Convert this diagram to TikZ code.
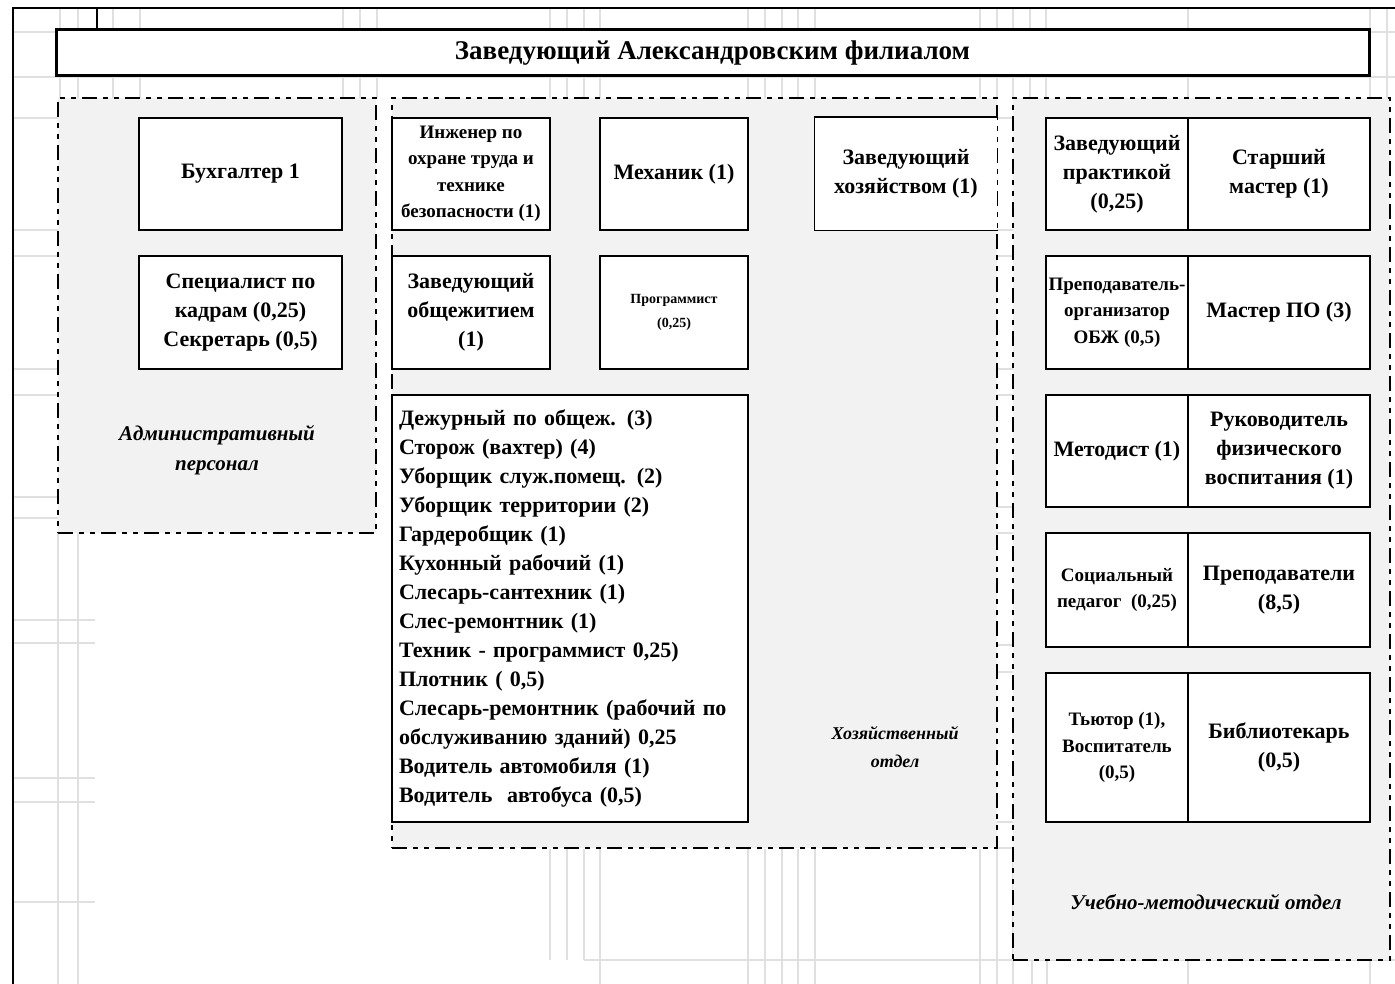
\documentclass[tikz,border=0pt]{standalone}
\usepackage{fontspec}
\setmainfont{Liberation Serif}
\definecolor{gridc}{HTML}{E0E0E0}
\definecolor{panelc}{HTML}{F2F2F2}
\begin{document}
\begin{tikzpicture}[x=1pt,y=-1pt,
  gridline/.style={draw=gridc, line width=1.2pt},
  frameline/.style={draw=black, line width=2pt},
  panel/.style={draw=black, fill=panelc, line width=2pt, dash pattern=on 15pt off 6pt on 5pt off 6pt on 5pt off 6pt, inner sep=0pt},
  box/.style={draw=black, line width=1.5pt, fill=white, align=center, inner sep=2pt, font=\bfseries\fontsize{22}{29}\selectfont},
  smallbox/.style={box, font=\bfseries\fontsize{19}{26.5}\selectfont},
  titlebox/.style={draw=black, line width=3pt, fill=white, align=center, font=\bfseries\fontsize{27}{29}\selectfont},
  lbl/.style={align=center, font=\bfseries\itshape\fontsize{21}{30}\selectfont}
]
\useasboundingbox (0,0) rectangle (1395,984);
\fill[white] (0,0) rectangle (1395,984);
% ---- faint spreadsheet grid ----
\foreach \gx in {60,78,113,140,343,360,377,550,567,584,600,748,765,782,798,815,980,997,1013,1030,1046,1188,1370,1387}
  \draw[gridline] (\gx,8) -- (\gx,98);
\foreach \gy in {32,77}
  \draw[gridline] (13,\gy) -- (1395,\gy);
\foreach \gy in {118,230,256,369,395,497,518}
  \draw[gridline] (13,\gy) -- (58,\gy);
\foreach \gy in {620,643,778,802,902}
  \draw[gridline] (13,\gy) -- (95,\gy);
\foreach \gx in {58,78}
  \draw[gridline] (\gx,533) -- (\gx,984);
\foreach \gy in {118,230,256,369,395,507,533,645,672,822,848}
  \draw[gridline] (997,\gy) -- (1013,\gy);
\foreach \gx in {550,567,584}
  \draw[gridline] (\gx,849) -- (\gx,960);
\foreach \gx in {600,748,765,782,798,815,980,997,1013}
  \draw[gridline] (\gx,849) -- (\gx,984);
\draw[gridline] (584,960) -- (1395,960);
\foreach \gx in {1032,1047,1188,1370}
  \draw[gridline] (\gx,960) -- (\gx,984);
% ---- frame ----
\draw[frameline] (13,984) -- (13,8) -- (1395,8);
\draw[frameline] (97,8) -- (97,30);
% ---- title ----
\node[titlebox, minimum width=1313pt, minimum height=46pt] (title) at (712.5,53) {Заведующий Александровским филиалом};
% ---- department panels ----
\node[panel, minimum width=318pt, minimum height=435pt] (adm) at (217,315.5) {};
\node[panel, minimum width=605pt, minimum height=750pt] (hoz) at (694.5,473) {};
\node[panel, minimum width=377pt, minimum height=862pt] (ucheb) at (1201.5,529) {};
% ---- administrative ----
\node[box, minimum width=203pt, minimum height=112pt] (buh) at (240.5,174) {Бухгалтер 1};
\node[box, minimum width=203pt, minimum height=113pt] (spec) at (240.5,312.5) {Специалист по\\кадрам (0,25)\\Секретарь (0,5)};
\node[lbl] (admlbl) at (217,450) {Административный\\персонал};
% ---- household ----
\node[smallbox, minimum width=158pt, minimum height=112pt] (ing) at (471,174) {Инженер по\\охране труда и\\технике\\безопасности (1)};
\node[box, minimum width=148pt, minimum height=112pt] (mech) at (674,174) {Механик (1)};
\node[box, draw=none, minimum width=182pt, minimum height=112pt] (zh) at (906,174) {Заведующий\\хозяйством (1)};
\draw[line width=1.5pt] (zh.north east) -- (zh.north west) -- (zh.south west) -- (zh.south east);
\node[box, minimum width=158pt, minimum height=113pt] (obsh) at (471,312.5) {Заведующий\\общежитием\\(1)};
\node[box, font=\bfseries\fontsize{14}{24}\selectfont, minimum width=148pt, minimum height=113pt] (prog) at (674,312.5) {Программист\\(0,25)};
\node[box, minimum width=356pt, minimum height=427pt, text width=342pt, align=left, inner xsep=7pt] (list) at (570,608.5) {Дежурный по общеж. (3)\\Сторож (вахтер) (4)\\Уборщик служ.помещ. (2)\\Уборщик территории (2)\\Гардеробщик (1)\\Кухонный рабочий (1)\\Слесарь-сантехник (1)\\Слес-ремонтник (1)\\Техник - программист 0,25)\\Плотник ( 0,5)\\Слесарь-ремонтник (рабочий по\\обслуживанию зданий) 0,25\\Водитель автомобиля (1)\\Водитель\ \ автобуса (0,5)};
\node[lbl, font=\bfseries\itshape\fontsize{18}{28}\selectfont] (hozlbl) at (895,747) {Хозяйственный\\отдел};
% ---- teaching ----
\node[box, minimum width=142pt, minimum height=112pt] (zp) at (1117,174) {Заведующий\\практикой\\(0,25)};
\node[box, minimum width=182pt, minimum height=112pt] (sm) at (1279,174) {Старший\\мастер (1)};
\node[smallbox, minimum width=142pt, minimum height=113pt] (obzh) at (1117,312.5) {Преподаватель-\\организатор\\ОБЖ (0,5)};
\node[box, minimum width=182pt, minimum height=113pt] (mpo) at (1279,312.5) {Мастер ПО (3)};
\node[box, minimum width=142pt, minimum height=112pt] (met) at (1117,451) {Методист (1)};
\node[box, minimum width=182pt, minimum height=112pt] (fiz) at (1279,451) {Руководитель\\физического\\воспитания (1)};
\node[smallbox, minimum width=142pt, minimum height=114pt] (soc) at (1117,590) {Социальный\\педагог\ \ (0,25)};
\node[box, minimum width=182pt, minimum height=114pt] (prep) at (1279,590) {Преподаватели\\(8,5)};
\node[smallbox, minimum width=142pt, minimum height=149pt] (tut) at (1117,747.5) {Тьютор (1),\\Воспитатель\\(0,5)};
\node[box, minimum width=182pt, minimum height=149pt] (bib) at (1279,747.5) {Библиотекарь\\(0,5)};
\node[lbl, font=\bfseries\itshape\fontsize{21}{28}\selectfont] (uchlbl) at (1206,902) {Учебно-методический отдел};
\end{tikzpicture}
\end{document}
